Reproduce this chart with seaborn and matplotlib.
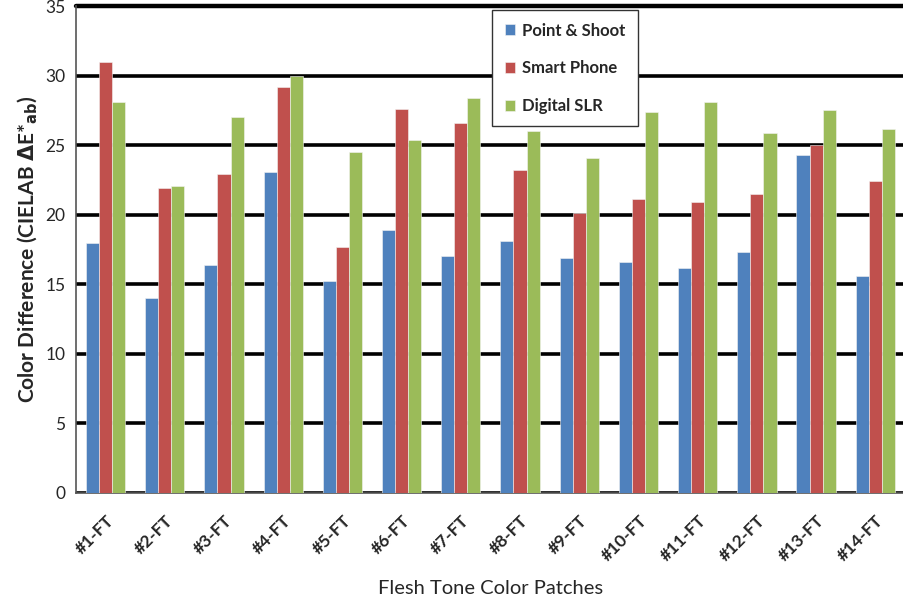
import matplotlib
matplotlib.use("Agg")
import matplotlib.pyplot as plt
import seaborn as sns
import pandas as pd
import numpy as np
from matplotlib.ticker import MultipleLocator, FixedLocator

categories = ["#1-FT", "#2-FT", "#3-FT", "#4-FT", "#5-FT", "#6-FT", "#7-FT",
              "#8-FT", "#9-FT", "#10-FT", "#11-FT", "#12-FT", "#13-FT", "#14-FT"]
point_shoot = [18.0, 14.0, 16.4, 23.1, 15.2, 18.9, 17.0, 18.1, 16.9, 16.6, 16.2, 17.3, 24.3, 15.6]
smart_phone = [31.0, 21.9, 22.9, 29.2, 17.7, 27.6, 26.6, 23.2, 20.1, 21.1, 20.9, 21.5, 25.0, 22.4]
digital_slr = [28.1, 22.1, 27.0, 30.0, 24.5, 25.4, 28.4, 26.0, 24.1, 27.4, 28.1, 25.9, 27.5, 26.2]
series_names = ["Point & Shoot", "Smart Phone", "Digital SLR"]
colors = ["#4F81BD", "#C0504D", "#9BBB59"]

df = pd.DataFrame({
    "patch": categories * 3,
    "value": point_shoot + smart_phone + digital_slr,
    "camera": [series_names[0]] * 14 + [series_names[1]] * 14 + [series_names[2]] * 14,
})

sns.set_style("white")
plt.rcParams["font.family"] = ["Lato", "DejaVu Sans"]

fig = plt.figure(figsize=(9.04, 5.98), dpi=100)
ax = fig.add_axes([0.084, 0.176, 0.917, 0.8136])

sns.barplot(data=df, x="patch", y="value", hue="camera", order=categories,
            hue_order=series_names, palette=colors, saturation=1, width=0.664,
            edgecolor="#f4f4f4", linewidth=0.4, ax=ax, zorder=3)

ax.set_ylim(0, 35)
ax.set_xlim(-0.5, len(categories) - 0.5)
ax.yaxis.set_major_locator(MultipleLocator(5))
ax.yaxis.set_minor_locator(MultipleLocator(1))
ax.grid(axis="y", which="major", color="black", linewidth=2.6, zorder=1)
ax.set_axisbelow(True)
ax.axhline(35, color="black", linewidth=3.2, clip_on=False, zorder=2)

ax.xaxis.set_minor_locator(FixedLocator(np.arange(-0.5, len(categories), 1.0)))
ax.tick_params(axis="x", which="major", length=0, pad=14)
ax.tick_params(axis="x", which="minor", direction="inout", length=12, width=1, color="#444444")
ax.tick_params(axis="y", which="major", direction="inout", length=9, width=1.2, color="#444444",
               labelsize=12.5, pad=3)
ax.tick_params(axis="y", which="minor", direction="in", length=4, width=1, color="#444444")
ax.set_xticks(range(len(categories)))
ax.set_xticklabels(categories, rotation=45, ha="right", rotation_mode="anchor",
                   fontsize=12.5, fontweight="bold")

for s in ["top", "right"]:
    ax.spines[s].set_visible(False)
for s in ["left", "bottom"]:
    ax.spines[s].set_color("#555555")
    ax.spines[s].set_linewidth(1.2)

ax.set_xlabel("Flesh Tone Color Patches", fontsize=14.5)
ax.xaxis.set_label_coords(0.5, -0.180)
ax.set_ylabel(r"Color Difference (CIELAB $\mathbf{\Delta}$E*$_{\mathbf{ab}}$)",
              fontsize=15, fontweight="bold")
ax.yaxis.set_label_coords(-0.0435, 0.5)

leg = ax.legend(loc="upper left", bbox_to_anchor=(0.502, 0.992), borderaxespad=0,
                frameon=True, fancybox=False, framealpha=1, edgecolor="#333333",
                handlelength=0.65, handleheight=0.65, handletextpad=0.4,
                labelspacing=1.3, borderpad=0.75,
                prop={"weight": "bold", "size": 12})
leg.get_frame().set_linewidth(1.0)
leg.set_zorder(10)

fig.savefig("out.png", dpi=100)
